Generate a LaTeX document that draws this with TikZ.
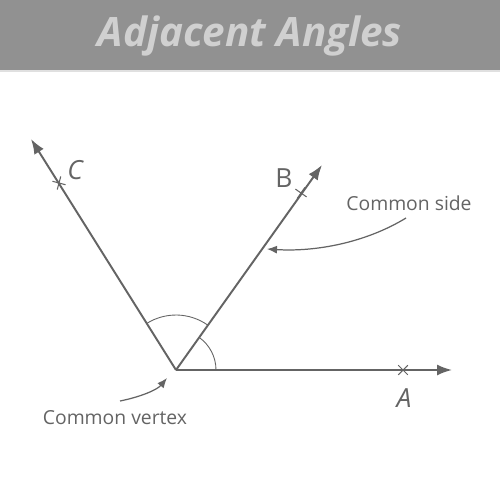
\documentclass[tikz,border=0pt]{standalone}
\usepackage{fontspec}
\setmainfont{Open Sans}
\usepackage{tikz}
\usetikzlibrary{arrows.meta,shapes.misc,positioning}
\definecolor{inkgray}{RGB}{100,100,100}
\definecolor{bandgray}{RGB}{145,145,145}
\definecolor{titlegray}{RGB}{208,208,208}
\tikzstyle{ray} = [draw=inkgray, line width=1.1pt, -{Latex[length=0.3cm,width=0.22cm]}]
\tikzstyle{pointer} = [draw=inkgray, line width=0.7pt, -{Latex[length=0.2cm,width=0.16cm]}]
\tikzstyle{tick} = [cross out, draw=inkgray, line width=0.6pt, minimum size=0.17cm, inner sep=0pt]
\tikzstyle{letter} = [text=inkgray, font=\fontsize{15}{15}\selectfont]
\tikzstyle{remark} = [text=inkgray, font=\fontsize{11}{13}\selectfont]

\begin{document}
\begin{tikzpicture}[x=0.02cm, y=-0.02cm]
    \useasboundingbox (0,0) rectangle (500,497);
    \fill[white] (0,0) rectangle (500,497);
    % Header band
    \fill[bandgray] (0,0) rectangle (500,70);
    \fill[black!12] (0,70) rectangle (500,72);
    \node [text=titlegray, font=\fontsize{23}{23}\selectfont\bfseries\itshape] (title) at (250,36) {Adjacent Angles};
    % Place points
    \coordinate (O) at (176,370);
    \coordinate (endA) at (452,370);
    \coordinate (endB) at (322,165);
    \coordinate (endC) at (31,139);
    \node [tick] (tickA) at (403,370) {};
    \node [tick, rotate=10] (tickB) at (301,193) {};
    \node [tick, rotate=30] (tickC) at (59,183) {};
    \node [letter, font=\fontsize{15}{15}\selectfont\itshape] (labA) at (404,398) {A};
    \node [letter] (labB) at (284,178) {B};
    \node [letter, font=\fontsize{15}{15}\selectfont\itshape] (labC) at (75,170) {C};
    \node [remark] (sidelabel) at (409,203) {Common side};
    \node [remark] (vertexlabel) at (115,418) {Common vertex};
    \coordinate (sidestart) at (406,218);
    \coordinate (sideend) at (267,249);
    \coordinate (vertexstart) at (120,401);
    \coordinate (vertexend) at (167,378);
    % Draw rays
    \path [ray] (O) -- (endA);
    \path [ray] (O) -- (endB);
    \path [ray] (O) -- (endC);
    % Angle arcs
    \draw [inkgray, line width=0.5pt] ([shift={(0:0.8cm)}]O) arc[start angle=0, end angle=54.6, radius=0.8cm];
    \draw [inkgray, line width=0.5pt] ([shift={(54.6:1.1cm)}]O) arc[start angle=54.6, end angle=122.1, radius=1.1cm];
    % Pointers
    \path [pointer] (sidestart) .. controls (365,243) and (315,252) .. (sideend);
    \path [pointer] (vertexstart) .. controls (140,397) and (157,390) .. (vertexend);
\end{tikzpicture}
\end{document}
